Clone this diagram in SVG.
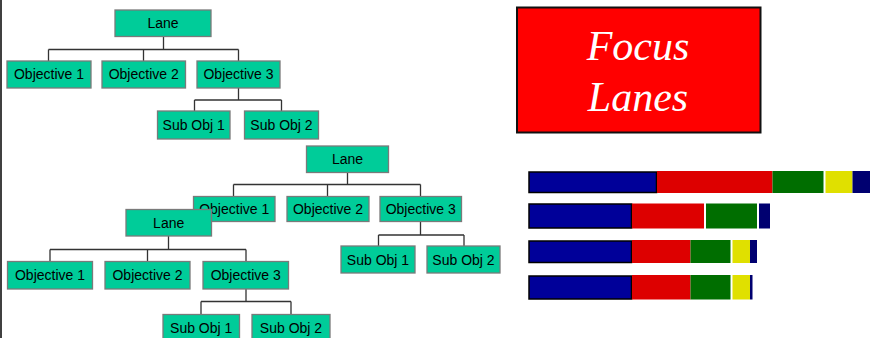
<svg xmlns="http://www.w3.org/2000/svg" width="870" height="338" viewBox="0 0 870 338">
  <style>
    .node rect { fill: #00CC99; stroke: #7a7a7a; stroke-width: 1.3; }
    .node text { font-family: "Liberation Sans", Arial, sans-serif; font-size: 14px; fill: #000; text-anchor: middle; }
    .links path { fill: none; stroke: #333; stroke-width: 1.3; }
    .title { font-family: "Liberation Serif", "Times New Roman", serif; font-style: italic; font-size: 42px; fill: #fff; text-anchor: middle; }
    .seg { stroke: none; }
  </style>

  <rect x="0" y="0" width="870" height="338" fill="#fff"/>
  <!-- left page edge -->
  <line x1="1" y1="0" x2="1" y2="338" stroke="#000" stroke-width="1.5"/>

  <!-- connectors -->
  <g class="links" id="connectors">
    <!-- tree 1 -->
    <path d="M163.5 36.5 V49.5 M48.5 49.5 H238.5 M48.5 49.5 V61 M143.5 49.5 V61 M238.5 49.5 V61"/>
    <path d="M238.5 88 V100 M194.5 100 H281.5 M194.5 100 V111 M281.5 100 V111"/>
    <!-- tree 2 -->
    <path d="M347.5 172.5 V184.5 M233.5 184.5 H420.5 M233.5 184.5 V196.5 M327.5 184.5 V196.5 M420.5 184.5 V196.5"/>
    <path d="M420.5 221.5 V235 M378.5 235 H464 M378.5 235 V246 M464 235 V246"/>
    <!-- tree 3 -->
    <path d="M168.5 236 V249.5 M50 249.5 H246 M50 249.5 V261.5 M147.5 249.5 V261.5 M246 249.5 V261.5"/>
    <path d="M246 289 V301.5 M201 301.5 H291 M201 301.5 V314.5 M291 301.5 V314.5"/>
  </g>

  <!-- tree 1 -->
  <g id="lane-a" class="node"><rect x="115" y="10" width="96" height="26.5"/><text x="163" y="28">Lane</text></g>
  <g id="lane-a-obj1" class="node"><rect x="7" y="61" width="84" height="27"/><text x="49" y="79">Objective 1</text></g>
  <g id="lane-a-obj2" class="node"><rect x="102" y="61" width="83.5" height="27"/><text x="143.7" y="79">Objective 2</text></g>
  <g id="lane-a-obj3" class="node"><rect x="197" y="61" width="83" height="27"/><text x="238.5" y="79">Objective 3</text></g>
  <g id="lane-a-sub1" class="node"><rect x="157.5" y="111" width="72.5" height="28"/><text x="193.7" y="130">Sub Obj 1</text></g>
  <g id="lane-a-sub2" class="node"><rect x="244.5" y="111" width="74" height="28"/><text x="281.5" y="130">Sub Obj 2</text></g>

  <!-- tree 2 -->
  <g id="lane-b" class="node"><rect x="306.5" y="146" width="82" height="26.5"/><text x="347.5" y="164">Lane</text></g>
  <g id="lane-b-obj1" class="node"><rect x="193.5" y="196.5" width="81.5" height="25"/><text x="234.2" y="214">Objective 1</text></g>
  <g id="lane-b-obj2" class="node"><rect x="287" y="196.5" width="82" height="25"/><text x="328" y="214">Objective 2</text></g>
  <g id="lane-b-obj3" class="node"><rect x="380" y="196.5" width="81.5" height="25"/><text x="420.7" y="214">Objective 3</text></g>
  <g id="lane-b-sub1" class="node"><rect x="341" y="246" width="74" height="27"/><text x="378" y="264.5">Sub Obj 1</text></g>
  <g id="lane-b-sub2" class="node"><rect x="427" y="246" width="73" height="27"/><text x="463.5" y="264.5">Sub Obj 2</text></g>

  <!-- tree 3 -->
  <g id="lane-c" class="node"><rect x="126" y="209.5" width="85.5" height="26.5"/><text x="168.7" y="228">Lane</text></g>
  <g id="lane-c-obj1" class="node"><rect x="7.5" y="261.5" width="85" height="27.5"/><text x="50" y="280">Objective 1</text></g>
  <g id="lane-c-obj2" class="node"><rect x="105" y="261.5" width="85" height="27.5"/><text x="147.5" y="280">Objective 2</text></g>
  <g id="lane-c-obj3" class="node"><rect x="203" y="261.5" width="85.5" height="27.5"/><text x="245.7" y="280">Objective 3</text></g>
  <g id="lane-c-sub1" class="node"><rect x="163" y="314.5" width="76.5" height="28"/><text x="201.2" y="333">Sub Obj 1</text></g>
  <g id="lane-c-sub2" class="node"><rect x="252" y="314.5" width="78" height="28"/><text x="291" y="333">Sub Obj 2</text></g>

  <!-- title panel -->
  <g id="title">
    <rect x="517" y="7.5" width="243.5" height="125" fill="#FF0000" stroke="#111" stroke-width="2"/>
    <text class="title" x="638" y="60">Focus</text>
    <text class="title" x="638" y="111">Lanes</text>
  </g>

  <!-- stacked bars -->
  <g id="bars">
    <!-- bar 1 -->
    <rect x="529" y="172" width="127.5" height="20.5" fill="#000099" stroke="#000" stroke-width="1.5"/>
    <rect class="seg" x="657" y="171" width="115.5" height="22" fill="#DD0000"/>
    <rect class="seg" x="772.5" y="171" width="51" height="22" fill="#006E00"/>
    <rect class="seg" x="825.5" y="171" width="27" height="22" fill="#E0E000"/>
    <rect class="seg" x="852.5" y="171" width="18" height="22" fill="#000070"/>
    <!-- bar 2 -->
    <rect x="529" y="204" width="102.5" height="24" fill="#000099" stroke="#000" stroke-width="1.5"/>
    <rect class="seg" x="632" y="203.5" width="72" height="25" fill="#DD0000"/>
    <rect class="seg" x="706" y="203.5" width="51" height="25" fill="#006E00"/>
    <rect class="seg" x="759" y="203.5" width="11" height="25" fill="#000070"/>
    <!-- bar 3 -->
    <rect x="529" y="241" width="102.5" height="21.5" fill="#000099" stroke="#000" stroke-width="1.5"/>
    <rect class="seg" x="632" y="240" width="58.5" height="23" fill="#DD0000"/>
    <rect class="seg" x="690.5" y="240" width="40" height="23" fill="#006E00"/>
    <rect class="seg" x="732.5" y="240" width="17.5" height="23" fill="#E0E000"/>
    <rect class="seg" x="750" y="240" width="7" height="23" fill="#000070"/>
    <!-- bar 4 -->
    <rect x="529" y="276" width="102.5" height="23" fill="#000099" stroke="#000" stroke-width="1.5"/>
    <rect class="seg" x="632" y="275" width="58.5" height="24.5" fill="#DD0000"/>
    <rect class="seg" x="690.5" y="275" width="40" height="24.5" fill="#006E00"/>
    <rect class="seg" x="732.5" y="275" width="17.5" height="24.5" fill="#E0E000"/>
    <rect class="seg" x="750" y="275" width="2.5" height="24.5" fill="#000070"/>
  </g>
</svg>
